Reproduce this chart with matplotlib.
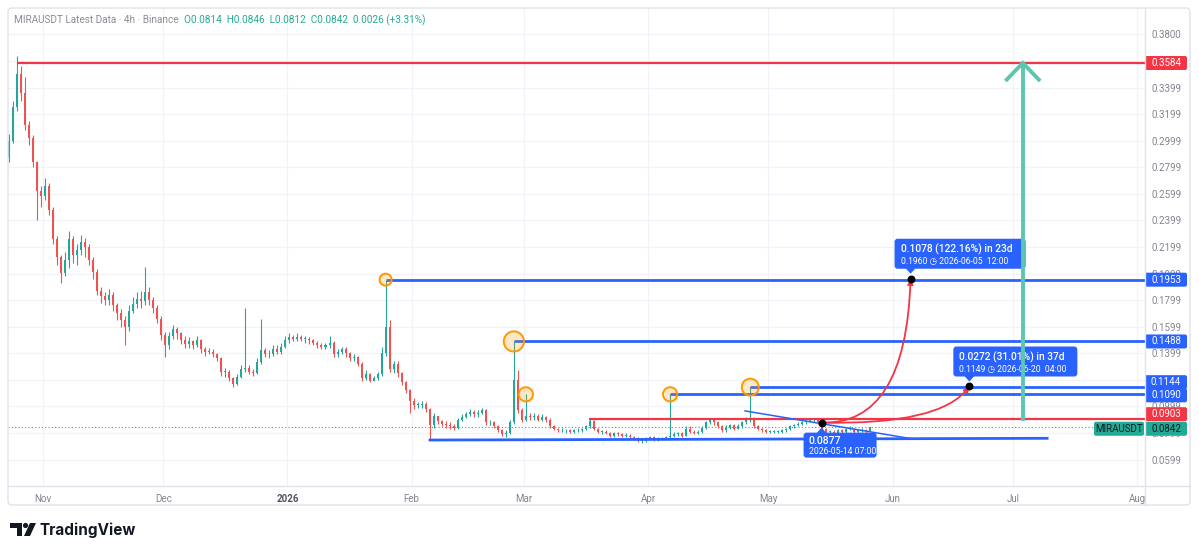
import matplotlib
matplotlib.use("Agg")
import matplotlib.pyplot as plt
import matplotlib.dates as mdates
import matplotlib.transforms as mtransforms
from matplotlib.patches import FancyBboxPatch, Polygon, Circle, FancyArrowPatch
from matplotlib.path import Path
import numpy as np
import pandas as pd

plt.rcParams['font.family'] = ['Roboto', 'DejaVu Sans']

# daily candles 2025-10-23 .. 2026-05-26
first_open = 0.288
closes = [
    # Oct 23-31
    0.300, 0.325, 0.350, 0.336, 0.312, 0.302, 0.284, 0.262, 0.258,
    # Nov
    0.266, 0.248, 0.226, 0.212, 0.200, 0.210, 0.226, 0.214, 0.218, 0.224,
    0.220, 0.210, 0.201, 0.187, 0.183, 0.180, 0.184, 0.176, 0.170, 0.165,
    0.160, 0.172, 0.177, 0.181, 0.179, 0.186, 0.180, 0.174, 0.166, 0.154,
    # Dec
    0.146, 0.153, 0.158, 0.155, 0.150, 0.147, 0.149, 0.146, 0.150, 0.143,
    0.141, 0.141, 0.139, 0.136, 0.126, 0.126, 0.121, 0.117, 0.122, 0.128,
    0.129, 0.126, 0.125, 0.133, 0.142, 0.139, 0.139, 0.143, 0.141, 0.145, 0.150,
    # Jan
    0.152, 0.151, 0.152, 0.151, 0.151, 0.150, 0.148, 0.146, 0.145, 0.146,
    0.148, 0.139, 0.141, 0.143, 0.140, 0.136, 0.137, 0.132, 0.121, 0.124,
    0.119, 0.121, 0.124, 0.140, 0.160, 0.128, 0.132, 0.125, 0.118, 0.112, 0.104,
    # Feb
    0.101, 0.101, 0.102, 0.098, 0.086, 0.093, 0.089, 0.087, 0.086, 0.085,
    0.084, 0.090, 0.092, 0.094, 0.096, 0.094, 0.095, 0.097, 0.088, 0.088,
    0.085, 0.082, 0.079, 0.080, 0.088, 0.120, 0.097, 0.090,
    # Mar
    0.093, 0.092, 0.093, 0.090, 0.092, 0.090, 0.085, 0.083, 0.082, 0.082,
    0.082, 0.081, 0.082, 0.082, 0.083, 0.085, 0.089, 0.083, 0.081, 0.081,
    0.080, 0.078, 0.080, 0.079, 0.078, 0.078, 0.077, 0.076, 0.074, 0.074, 0.076,
    # Apr
    0.077, 0.075, 0.076, 0.076, 0.077, 0.078, 0.079, 0.080, 0.078, 0.083,
    0.081, 0.080, 0.081, 0.084, 0.088, 0.090, 0.088, 0.085, 0.082, 0.084,
    0.086, 0.083, 0.085, 0.088, 0.090, 0.091, 0.085, 0.083, 0.082, 0.081,
    # May 1-26
    0.081, 0.081, 0.081, 0.082, 0.083, 0.085, 0.086, 0.087, 0.088, 0.089,
    0.090, 0.090, 0.088, 0.083, 0.081, 0.081, 0.080, 0.082, 0.081, 0.083,
    0.083, 0.081, 0.082, 0.082, 0.0814, 0.0842,
]
highs = [
    0.305, 0.330, 0.3635, 0.356, 0.348, 0.315, 0.304, 0.285, 0.266,
    0.272, 0.268, 0.250, 0.228, 0.214, 0.216, 0.232, 0.228, 0.222, 0.229,
    0.227, 0.222, 0.212, 0.203, 0.190, 0.186, 0.188, 0.186, 0.178, 0.173,
    0.168, 0.176, 0.182, 0.186, 0.187, 0.205, 0.190, 0.182, 0.176, 0.168,
    0.156, 0.156, 0.161, 0.160, 0.156, 0.153, 0.152, 0.150, 0.153, 0.151,
    0.145, 0.144, 0.143, 0.140, 0.137, 0.129, 0.127, 0.122, 0.124, 0.131,
    0.1738, 0.131, 0.128, 0.136, 0.166, 0.144, 0.142, 0.146, 0.146, 0.148, 0.153,
    0.155, 0.154, 0.155, 0.154, 0.153, 0.152, 0.151, 0.149, 0.148, 0.148,
    0.153, 0.149, 0.143, 0.145, 0.145, 0.141, 0.139, 0.138, 0.133, 0.127,
    0.125, 0.123, 0.126, 0.145, 0.1953, 0.165, 0.134, 0.134, 0.126, 0.119, 0.113,
    0.106, 0.103, 0.104, 0.103, 0.099, 0.095, 0.093, 0.090, 0.089, 0.088,
    0.087, 0.091, 0.094, 0.096, 0.098, 0.097, 0.097, 0.099, 0.098, 0.090,
    0.089, 0.086, 0.083, 0.082, 0.090, 0.1488, 0.127, 0.099,
    0.1090, 0.095, 0.095, 0.094, 0.094, 0.093, 0.091, 0.086, 0.084, 0.084,
    0.083, 0.083, 0.083, 0.084, 0.084, 0.086, 0.0903, 0.090, 0.084, 0.082,
    0.082, 0.081, 0.081, 0.081, 0.080, 0.080, 0.079, 0.078, 0.077, 0.076, 0.077,
    0.078, 0.078, 0.077, 0.077, 0.078, 0.1090, 0.081, 0.081, 0.081, 0.085,
    0.085, 0.082, 0.082, 0.085, 0.089, 0.0915, 0.091, 0.089, 0.086, 0.086,
    0.087, 0.087, 0.087, 0.089, 0.092, 0.1144, 0.092, 0.086, 0.084, 0.083,
    0.082, 0.082, 0.082, 0.083, 0.084, 0.086, 0.087, 0.088, 0.089, 0.090,
    0.091, 0.091, 0.0905, 0.088, 0.084, 0.082, 0.082, 0.083, 0.083, 0.084,
    0.085, 0.084, 0.083, 0.084, 0.083, 0.0846,
]
lows = [
    0.284, 0.298, 0.322, 0.330, 0.308, 0.297, 0.280, 0.240, 0.250,
    0.255, 0.244, 0.222, 0.206, 0.193, 0.198, 0.204, 0.208, 0.206, 0.214,
    0.212, 0.206, 0.196, 0.184, 0.178, 0.176, 0.176, 0.172, 0.165, 0.160,
    0.146, 0.157, 0.170, 0.174, 0.174, 0.176, 0.176, 0.170, 0.163, 0.150,
    0.137, 0.143, 0.151, 0.151, 0.147, 0.144, 0.144, 0.143, 0.145, 0.140,
    0.138, 0.139, 0.137, 0.134, 0.123, 0.122, 0.119, 0.1147, 0.116, 0.121,
    0.126, 0.124, 0.123, 0.124, 0.132, 0.137, 0.136, 0.138, 0.139, 0.139, 0.144,
    0.148, 0.149, 0.149, 0.149, 0.148, 0.147, 0.146, 0.144, 0.143, 0.143,
    0.144, 0.137, 0.137, 0.139, 0.137, 0.134, 0.134, 0.130, 0.119, 0.120,
    0.118, 0.119, 0.120, 0.123, 0.138, 0.126, 0.125, 0.122, 0.116, 0.110, 0.0947,
    0.098, 0.099, 0.099, 0.096, 0.0746, 0.084, 0.087, 0.085, 0.084, 0.083,
    0.082, 0.083, 0.089, 0.091, 0.093, 0.092, 0.092, 0.094, 0.086, 0.086,
    0.084, 0.081, 0.078, 0.0771, 0.079, 0.087, 0.095, 0.088,
    0.089, 0.090, 0.090, 0.089, 0.089, 0.088, 0.084, 0.082, 0.081, 0.081,
    0.080, 0.080, 0.080, 0.081, 0.081, 0.082, 0.084, 0.082, 0.080, 0.079,
    0.079, 0.077, 0.077, 0.078, 0.077, 0.077, 0.076, 0.075, 0.073, 0.0721, 0.073,
    0.075, 0.074, 0.074, 0.075, 0.075, 0.076, 0.077, 0.078, 0.077, 0.078,
    0.080, 0.079, 0.079, 0.080, 0.083, 0.087, 0.086, 0.084, 0.081, 0.081,
    0.083, 0.082, 0.083, 0.084, 0.087, 0.088, 0.084, 0.082, 0.081, 0.080,
    0.080, 0.080, 0.080, 0.080, 0.081, 0.082, 0.084, 0.085, 0.086, 0.087,
    0.088, 0.088, 0.087, 0.082, 0.080, 0.079, 0.079, 0.079, 0.080, 0.080,
    0.082, 0.080, 0.080, 0.081, 0.080, 0.0812,
]

last_price = 0.0842
top_level = 0.3584
top_start = '2025-10-25 12:00'
blue_levels = [0.1953, 0.1488, 0.1144, 0.1090]
blue_starts = ['2026-01-25 12:00', '2026-02-26 12:00', '2026-04-26 12:00', '2026-04-06 12:00']
red_level = 0.0903
red_start = '2026-03-17 04:00'
circle_times = ['2026-01-25 12:00', '2026-02-26 12:00', '2026-03-01 12:00', '2026-04-06 12:00', '2026-04-26 12:00']
circle_prices = [0.1953, 0.1488, 0.1090, 0.1090, 0.1144]
circle_sizes = [75, 210, 105, 105, 150]
support_t = ['2026-02-05 14:00', '2026-07-09 14:00']
support_p = [0.0746, 0.0759]
wedge_t = ['2026-04-25 05:00', '2026-06-05 03:00']
wedge_p = [0.0965, 0.0759]
start_t, start_p = '2026-05-14 07:00', 0.0877
tgt1_t, tgt1_p = '2026-06-05 12:00', 0.1960
tgt2_t, tgt2_p = '2026-06-20 04:00', 0.1149
teal_t = '2026-07-03 12:00'
teal_p = [0.0893, 0.3584]

y_ticks = [0.0599, 0.0799, 0.0999, 0.1199, 0.1399, 0.1599, 0.1799, 0.1999, 0.2199,
           0.2399, 0.2599, 0.2799, 0.2999, 0.3199, 0.3399, 0.3599, 0.3800]
y_labels = ['0.0599', '0.0799', '0.0999', '', '0.1399', '0.1599', '0.1799', '0.1999', '0.2199',
            '0.2399', '0.2599', '0.2799', '0.2999', '0.3199', '0.3399', '', '0.3800']
month_ticks = ['2025-11-01', '2025-12-01', '2026-01-01', '2026-02-01', '2026-03-01',
               '2026-04-01', '2026-05-01', '2026-06-01', '2026-07-01', '2026-08-01']
month_labels = ['Nov', 'Dec', '2026', 'Feb', 'Mar', 'Apr', 'May', 'Jun', 'Jul', 'Aug']

UP, DOWN = '#26a69a', '#ef5350'
BLUE, RED, GREEN, TEAL = '#2962ff', '#f23645', '#22ab94', '#5dc6b1'
GRAY = '#82858e'
GRID = '#f0f3fa'
FRAME = '#e0e3eb'

W, H = 1199, 554
fig = plt.figure(figsize=(W / 100, H / 100), dpi=100)
fig.patch.set_facecolor('white')
ax = fig.add_axes([8 / W, 1 - 486 / H, 1137 / W, 478 / H])
ident = mtransforms.IdentityTransform()

def T(s):
    return mdates.date2num(pd.Timestamp(s))

dates = pd.date_range('2025-10-23 12:00', periods=len(closes), freq='D')
x = mdates.date2num(dates)
c = np.array(closes)
o = np.array([first_open] + closes[:-1])
hi = np.array(highs)
lo = np.array(lows)
cols = np.where(c >= o, UP, DOWN)

ax.set_xlim(T('2025-10-23 06:30'), T('2026-08-03 00:00'))
ax.set_ylim(0.0400, 0.3998)

ax.vlines(x, lo, hi, colors=cols, lw=0.8, zorder=3)
ax.bar(x, np.maximum(np.abs(c - o), 0.0004), bottom=np.minimum(o, c), width=0.5,
       color=cols, lw=0, zorder=3)

# grid and axes
ax.set_yticks(y_ticks)
ax.set_yticklabels(y_labels)
ax.yaxis.tick_right()
ax.set_xticks([T(m) for m in month_ticks])
ax.set_xticklabels(month_labels)
ax.tick_params(axis='both', length=0, colors=GRAY, labelsize=7)
ax.tick_params(axis='y', pad=4.5)
ax.tick_params(axis='x', pad=6)
for lab in ax.get_xticklabels():
    if lab.get_text() == '2026':
        lab.set_fontweight('bold')
        lab.set_color('#50535e')
ax.grid(True, color=GRID, lw=0.9, zorder=0)
ax.set_axisbelow(True)
for s in ax.spines.values():
    s.set_visible(False)

# current price dotted line
ax.axhline(last_price, color=GREEN, ls=(0, (1, 2)), lw=0.8, zorder=2)

# horizontal levels
xr = T('2026-08-20')
ax.hlines(top_level, T(top_start), xr, color=RED, lw=1.6, zorder=5)
ax.hlines(red_level, T(red_start), xr, color=RED, lw=1.6, zorder=5)
for lv, st in zip(blue_levels, blue_starts):
    ax.hlines(lv, T(st), xr, color=BLUE, lw=2.0, zorder=5)
ax.plot([T(t) for t in support_t], support_p, color=BLUE, lw=2.0, zorder=5)
ax.plot([T(t) for t in wedge_t], wedge_p, color=BLUE, lw=1.1, zorder=5)

ax.scatter([T(t) for t in circle_times], circle_prices, s=circle_sizes,
           facecolor=(1.0, 0.6, 0.0, 0.22), edgecolor='#ff9800', lw=1.4, zorder=6)

# projected paths
p0 = (T(start_t), start_p)
for (tt, pp), back in [((tgt1_t, tgt1_p), 1.2), ((tgt2_t, tgt2_p), 7.3)]:
    ctrl = (T(tt) - back, start_p - 0.002)
    path = Path([p0, ctrl, (T(tt), pp)], [Path.MOVETO, Path.CURVE3, Path.CURVE3])
    arr = FancyArrowPatch(path=path, arrowstyle='-|>', mutation_scale=8,
                          color=RED, lw=1.3, zorder=7)
    ax.add_patch(arr)
ax.scatter([T(start_t), T(tgt1_t), T(tgt2_t)], [start_p, tgt1_p, tgt2_p],
           s=22, color='black', zorder=8)

def to_px(t, p):
    return ax.transData.transform((T(t), p))

def callout(t, p, x0, x1, y0, y1, rows):
    px, py = to_px(t, p)
    box = FancyBboxPatch((px + x0, py + y0), x1 - x0, y1 - y0,
                         boxstyle='round,pad=0,rounding_size=3', transform=ident,
                         fc=BLUE, ec='none', zorder=20, clip_on=False)
    ax.add_artist(box)
    if y0 > 0:
        tri = [(px - 5, py + y0 + 0.5), (px + 5, py + y0 + 0.5), (px, py + 5)]
    else:
        tri = [(px - 5, py + y1 - 0.5), (px + 5, py + y1 - 0.5), (px, py - 5)]
    ax.add_artist(Polygon(tri, closed=True, transform=ident, fc=BLUE, ec='none',
                          zorder=20, clip_on=False))
    for dx, dy, s, fs, fw in rows:
        ax.text(px + dx, py + dy, s, transform=ident, color='white', fontsize=fs,
                fontweight=fw, ha='left', va='center', zorder=21, clip_on=False)

callout(tgt1_t, tgt1_p, -16, 115, 10, 40,
        [(-10, 29, '0.1078 (122.16%) in 23d', 7.4, 'medium'),
         (-10, 17, '0.1960 \u25f7 2026-06-05  12:00', 6.2, 'normal')])
callout(tgt2_t, tgt2_p, -16, 108, 10, 40,
        [(-10, 29, '0.0272 (31.01%) in 37d', 7.4, 'medium'),
         (-10, 17, '0.1149 \u25f7 2026-06-20  04:00', 6.2, 'normal')])
callout(start_t, start_p, -18, 55, -35, -10,
        [(-13, -18, '0.0877', 7.6, 'medium'),
         (-13, -29, '2026-05-14 07:00', 6.2, 'normal')])

# teal target arrow (drawn over the callouts)
tx = T(teal_t)
ax.plot([tx, tx], teal_p, color=TEAL, lw=2.8, zorder=25, solid_capstyle='butt')
ax.plot([tx - 4, tx, tx + 4], [teal_p[1] - 0.0125, teal_p[1], teal_p[1] - 0.0125],
        color=TEAL, lw=2.8, zorder=25, solid_joinstyle='miter')

# price axis labels
def price_box(p, label, fc, tc, shift=0, x0=1145, w=42):
    py = ax.transData.transform((0, p))[1] + shift
    ax.add_artist(FancyBboxPatch((x0, py - 7), w, 14, boxstyle='round,pad=0,rounding_size=2',
                                 transform=ident, fc=fc, ec='none', zorder=22, clip_on=False))
    ax.text(x0 + w / 2, py, label, transform=ident, color=tc, fontsize=7,
            ha='center', va='center', zorder=23, clip_on=False)

price_box(top_level, '0.3584', RED, 'white')
price_box(0.1953, '0.1953', BLUE, 'white')
price_box(0.1488, '0.1488', BLUE, 'white')
price_box(0.1144, '0.1144', BLUE, 'white', shift=5)
price_box(0.1090, '0.1090', BLUE, 'white', shift=-1)
price_box(red_level, '0.0903', RED, 'white', shift=5)
price_box(last_price, '0.0842', GREEN, '#131722', shift=-1.5)
price_box(last_price, 'MIRAUSDT', GREEN, '#131722', shift=-1.5, x0=1094, w=50)

# frame
fig.add_artist(FancyBboxPatch((8, H - 505), 1182, 497, boxstyle='round,pad=0,rounding_size=4',
                              transform=ident, fc='none', ec=FRAME, lw=1))
fig.add_artist(plt.Line2D([1145, 1145], [H - 505, H - 8], transform=ident, color=FRAME, lw=1))
fig.add_artist(plt.Line2D([8, 1190], [H - 486, H - 486], transform=ident, color=FRAME, lw=1))

# header
h1 = fig.text(14, H - 20, 'MIRAUSDT Latest Data \u00b7 4h \u00b7 Binance', transform=ident,
              color='#8a8d96', fontsize=7.2, va='center')
fig.canvas.draw()
h1_right = h1.get_window_extent().x1
fig.text(h1_right + 5, H - 20, 'O0.0814  H0.0846  L0.0812  C0.0842  0.0026 (+3.31%)',
         transform=ident, color=GREEN, fontsize=7.2, va='center')

# TradingView logo
fig.add_artist(Polygon([(10, H - 523), (22, H - 523), (22, H - 536), (17, H - 536), (17, H - 528), (10, H - 528)],
                       transform=ident, fc='#131722', ec='none'))
fig.add_artist(Circle((25.5, H - 525.5), 2.6, transform=ident, fc='#131722', ec='none'))
fig.add_artist(Polygon([(30, H - 523), (36, H - 523), (30, H - 536), (24, H - 536)],
                       transform=ident, fc='#131722', ec='none'))
fig.text(40, H - 530, 'TradingView', transform=ident, color='#131722', fontsize=11,
         fontweight='bold', family=['Inter', 'DejaVu Sans'], va='center')

fig.savefig('out.png', dpi=100, facecolor='white')
